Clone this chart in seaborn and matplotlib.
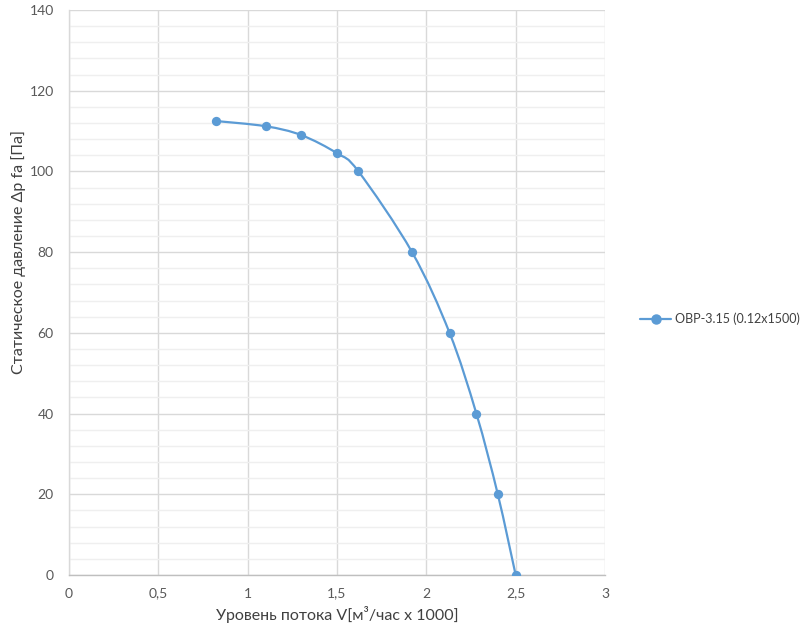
import numpy as np
import pandas as pd
import matplotlib
matplotlib.use("Agg")
import matplotlib.pyplot as plt
from matplotlib.path import Path
from matplotlib.patches import PathPatch
from matplotlib.lines import Line2D
from matplotlib.ticker import MultipleLocator, FuncFormatter
import seaborn as sns

# ---- data ----
flow = [0.82, 1.10, 1.30, 1.50, 1.62, 1.92, 2.13, 2.28, 2.40, 2.50]
pressure = [112.5, 111.2, 109.0, 104.5, 100, 80, 60, 40, 20, 0]
series_name = "OBP-3.15 (0.12x1500)"
x_label = "Уровень потока V[м³/час x 1000]"
y_label = "Статическое давление Δp fa [Па]"

df = pd.DataFrame({"x": flow, "y": pressure, "s": series_name})

sns.set_theme(style="white")
plt.rcParams["font.family"] = ["Lato", "DejaVu Sans"]

fig = plt.figure(figsize=(8, 6.25), dpi=100)
ax = fig.add_axes([0.08625, 0.08, 0.67, 0.904])

color = "#5B9BD5"

# smoothed line (Excel-like Bezier smoothing through the data points)
xs, ys = np.array(flow, float), np.array(pressure, float)
n = len(xs)
verts = [(xs[0], ys[0])]
codes = [Path.MOVETO]
for i in range(n - 1):
    p0 = np.array([xs[max(i - 1, 0)], ys[max(i - 1, 0)]])
    p1 = np.array([xs[i], ys[i]])
    p2 = np.array([xs[i + 1], ys[i + 1]])
    p3 = np.array([xs[min(i + 2, n - 1)], ys[min(i + 2, n - 1)]])
    c1 = p1 + (p2 - p0) / 6.0
    c2 = p2 - (p3 - p1) / 6.0
    verts += [tuple(c1), tuple(c2), tuple(p2)]
    codes += [Path.CURVE4] * 3
ax.add_patch(PathPatch(Path(verts, codes), fill=False, edgecolor=color, lw=1.6, zorder=3))

sns.scatterplot(data=df, x="x", y="y", color=color, s=45, edgecolor=color,
                linewidth=0, zorder=4, ax=ax, legend=False)

ax.set_xlim(0, 3)
ax.set_ylim(0, 140)
ax.xaxis.set_major_locator(MultipleLocator(0.5))
ax.yaxis.set_major_locator(MultipleLocator(20))
ax.yaxis.set_minor_locator(MultipleLocator(4))
ax.xaxis.set_major_formatter(FuncFormatter(lambda v, p: ("%g" % v).replace(".", ",")))

ax.grid(which="major", axis="both", color="#d9d9d9", lw=1.0)
ax.grid(which="minor", axis="y", color="#efefef", lw=1.0)
ax.set_axisbelow(True)

for side in ["top", "right"]:
    ax.spines[side].set_visible(False)
ax.spines["left"].set_color("#d9d9d9")
ax.spines["bottom"].set_color("#bfbfbf")
ax.spines["left"].set_linewidth(1.0)
ax.spines["bottom"].set_linewidth(1.0)

ax.tick_params(axis="both", which="both", length=0, labelsize=10, colors="#595959")
ax.tick_params(axis="y", pad=11)
ax.tick_params(axis="x", pad=9)
ax.set_xlabel(x_label, fontsize=11.5, color="#404040")
ax.set_ylabel(y_label, fontsize=11.5, color="#404040")
ax.xaxis.set_label_coords(0.5, -0.055)
ax.yaxis.set_label_coords(-0.081, 0.572)

handle = Line2D([0], [0], color=color, lw=1.6, marker="o", markersize=6.5)
fig.legend([handle], [series_name], loc="center left", bbox_to_anchor=(0.8, 0.49),
           frameon=False, fontsize=9, handlelength=2.5, handletextpad=0.3,
           borderpad=0, borderaxespad=0, labelcolor="#404040")

fig.savefig("out.png", dpi=100)
